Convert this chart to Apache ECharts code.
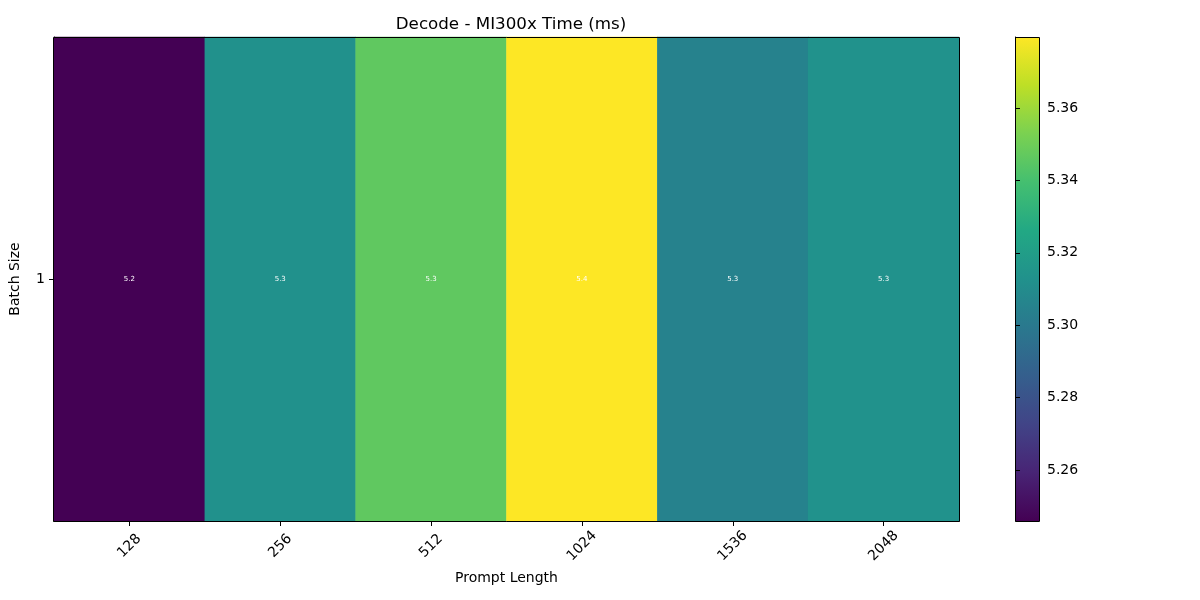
<!DOCTYPE html>
<html><head><meta charset="utf-8">
<script src="https://cdn.jsdelivr.net/npm/echarts@6/dist/echarts.min.js"></script>
<style>html,body{margin:0;padding:0;background:#fff}#c{width:1200px;height:600px}</style>
</head><body><div id="c"></div>
<script>
const promptLengths = ['128', '256', '512', '1024', '1536', '2048'];
const batchSizes = ['1'];
const times = [5.2459, 5.3128, 5.3465, 5.3796, 5.3047, 5.3135];
const colorbarTicks = [5.26, 5.28, 5.30, 5.32, 5.34, 5.36];
const viridis = ['#440154', '#482475', '#414487', '#355f8d', '#2a788e', '#21918c', '#22a884', '#44bf70', '#7ad151', '#bddf26', '#fde725'];

const vmin = Math.min(...times), vmax = Math.max(...times);
const heatData = times.map((v, i) => [i, 0, v]);
const font = 'DejaVu Sans';
const P = {left: 53, top: 37, width: 906, height: 484};
const CB = {left: 1015, top: 37, width: 24, height: 484};

const chart = echarts.init(document.getElementById('c'));
chart.setOption({
  animation: false,
  textStyle: {fontFamily: font},
  title: {text: 'Decode - MI300x Time (ms)', left: P.left + P.width / 2, top: 11, textAlign: 'center',
    textStyle: {fontFamily: font, fontSize: 16.7, fontWeight: 'normal', color: '#000'}},
  grid: [
    {left: P.left, top: P.top, width: P.width, height: P.height},
    {left: CB.left, top: CB.top, width: CB.width, height: CB.height,
     show: true, borderWidth: 0,
     backgroundColor: new echarts.graphic.LinearGradient(0, 1, 0, 0,
       viridis.map((c, i) => ({offset: i / (viridis.length - 1), color: c})))}
  ],
  xAxis: [
    {type: 'category', data: promptLengths, gridIndex: 0,
     name: 'Prompt Length', nameLocation: 'middle', nameGap: 50, nameMoveOverlap: false,
     nameTextStyle: {fontFamily: font, fontSize: 14, color: '#000'},
     axisLine: {show: true, lineStyle: {color: '#000'}},
     axisTick: {show: true, alignWithLabel: true, length: 5, lineStyle: {color: '#000'}},
     axisLabel: {rotate: 45, fontFamily: font, fontSize: 14, color: '#000', margin: 25, align: 'center', verticalAlign: 'middle'},
     splitLine: {show: false}},
    {type: 'value', gridIndex: 1, show: false, min: 0, max: 1}
  ],
  yAxis: [
    {type: 'category', data: batchSizes, gridIndex: 0,
     name: 'Batch Size', nameLocation: 'middle', nameGap: 32, nameMoveOverlap: false,
     nameTextStyle: {fontFamily: font, fontSize: 14, color: '#000'},
     axisLine: {show: true, lineStyle: {color: '#000'}},
     axisTick: {show: true, alignWithLabel: true, length: 5, lineStyle: {color: '#000'}},
     axisLabel: {fontFamily: font, fontSize: 14, color: '#000', margin: 9},
     splitLine: {show: false}},
    {type: 'value', gridIndex: 1, position: 'right', min: vmin, max: vmax,
     axisLine: {show: true, lineStyle: {color: '#000'}},
     splitLine: {show: false},
     axisTick: {show: true, length: 5, inside: false, customValues: colorbarTicks, lineStyle: {color: '#000'}},
     axisLabel: {show: true, customValues: colorbarTicks, fontFamily: font, fontSize: 14, color: '#000', margin: 8,
       formatter: v => Number(v).toFixed(2)}}
  ],
  visualMap: {show: false, type: 'continuous', min: vmin, max: vmax, seriesIndex: 0, dimension: 2,
    inRange: {color: viridis}},
  series: [{
    type: 'heatmap', xAxisIndex: 0, yAxisIndex: 0, data: heatData,
    label: {show: true, color: '#fff', fontSize: 7, fontFamily: font,
      formatter: p => p.value[2].toFixed(1)},
    itemStyle: {borderWidth: 0},
    emphasis: {disabled: true}
  }],
  graphic: [
    {type: 'rect', z: 100, shape: {x: P.left + 0.5, y: P.top + 0.5, width: P.width, height: P.height},
     style: {fill: 'none', stroke: '#000', lineWidth: 1}},
    {type: 'rect', z: 100, shape: {x: CB.left + 0.5, y: CB.top + 0.5, width: CB.width, height: CB.height},
     style: {fill: 'none', stroke: '#000', lineWidth: 1}}
  ]
});
</script></body></html>
